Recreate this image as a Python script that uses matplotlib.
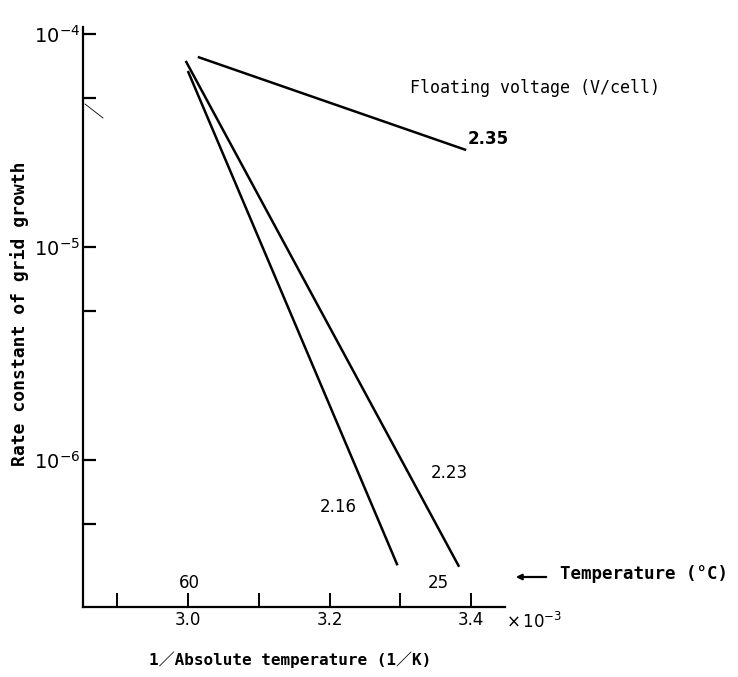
import matplotlib
matplotlib.use("Agg")
import matplotlib.pyplot as plt
import numpy as np

# Data (x in 1/K x 10^-3, y rate constant)
v235_x = [3.014, 3.393]
v235_y = [7.8e-5, 2.85e-5]
v223_x = [2.997, 3.383]
v223_y = [7.47e-5, 3.15e-7]
v216_x = [3.000, 3.296]
v216_y = [6.7e-5, 3.2e-7]
series_labels = ["2.35", "2.23", "2.16"]

temps_C = [60, 25]
xticks_major = [3.0, 3.2, 3.4]
xticks_all = [2.9, 3.0, 3.1, 3.2, 3.3, 3.4]
yticks_major = [1e-4, 1e-5, 1e-6]
yticks_labels = [r"$10^{-4}$", r"$10^{-5}$", r"$10^{-6}$"]
yticks_minor = [5e-5, 5e-6, 5e-7]

mono = ["DejaVu Sans Mono", "Noto Sans CJK JP"]

fig = plt.figure(figsize=(7.38, 6.77), dpi=100)
ax = fig.add_axes([0.1125, 0.1034, 0.572, 0.857])
ax.set_yscale("log")
ax.set_xlim(2.852, 3.448)
ax.set_ylim(2.04e-7, 1.08e-4)

for xs, ys in [(v235_x, v235_y), (v223_x, v223_y), (v216_x, v216_y)]:
    ax.plot(xs, ys, color="black", lw=1.8, solid_capstyle="butt")

for s in ["top", "right"]:
    ax.spines[s].set_visible(False)
for s in ["left", "bottom"]:
    ax.spines[s].set_linewidth(1.6)

ax.set_yticks(yticks_major)
ax.set_yticklabels(yticks_labels, fontsize=14)
ax.set_yticks(yticks_minor, minor=True)
ax.yaxis.set_minor_formatter(matplotlib.ticker.NullFormatter())
ax.tick_params(axis="y", which="both", direction="in", length=9, width=1.6, pad=2)

ax.set_xticks(xticks_all)
ax.set_xticklabels([f"{t:.1f}" if any(abs(t - m) < 1e-9 for m in xticks_major) else "" for t in xticks_all],
                   fontsize=12)
ax.xaxis.set_minor_locator(matplotlib.ticker.NullLocator())
ax.tick_params(axis="x", which="both", direction="in", length=10, width=1.4, pad=3)

# temperature labels above axis
for tc in temps_C:
    xv = 1000.0 / (tc + 273.15)
    ax.annotate(str(tc), xy=(xv, 2.04e-7), xytext=(0, 11), textcoords="offset points",
                ha="center", va="bottom", fontsize=12)

# line labels
ax.text(3.395, 3.2e-5, series_labels[0], fontsize=12, fontweight="bold", ha="left", va="center")
ax.text(3.369, 8.7e-7, series_labels[1], fontsize=12, ha="center", va="center")
ax.text(3.213, 6.0e-7, series_labels[2], fontsize=12, ha="center", va="center")

fig.text(410 / 738, 1 - 88 / 677, "Floating voltage (V/cell)", fontsize=12, family=mono,
         ha="left", va="center")

fig.text(20 / 738, 1 - 314 / 677, "Rate constant of grid growth", fontsize=13, family=mono,
         fontweight="bold", rotation=90, ha="center", va="center")

fig.text(290 / 738, 1 - 660 / 677, "1／Absolute temperature (1／K)", fontsize=11.5,
         family=mono, fontweight="bold", ha="center", va="center")
fig.text(506 / 738, 1 - 622 / 677, r"$\times\,10^{-3}$", fontsize=12, ha="left", va="center")

# small stroke near the upper left of the axis (as in the reference)
fig.add_artist(plt.Line2D([85 / 738, 103 / 738], [1 - 104 / 677, 1 - 118 / 677],
                          color="black", lw=0.6))

# Temperature arrow + label
ax.annotate("", xy=(513 / 738, 1 - 577 / 677), xytext=(549 / 738, 1 - 577 / 677),
            xycoords="figure fraction", textcoords="figure fraction",
            arrowprops=dict(arrowstyle="-|>", color="black", lw=1.6, mutation_scale=8))
fig.text(560 / 738, 1 - 574 / 677, "Temperature (°C)", fontsize=12.6, family=mono,
         fontweight="bold", ha="left", va="center")

fig.savefig("out.png", dpi=100)
